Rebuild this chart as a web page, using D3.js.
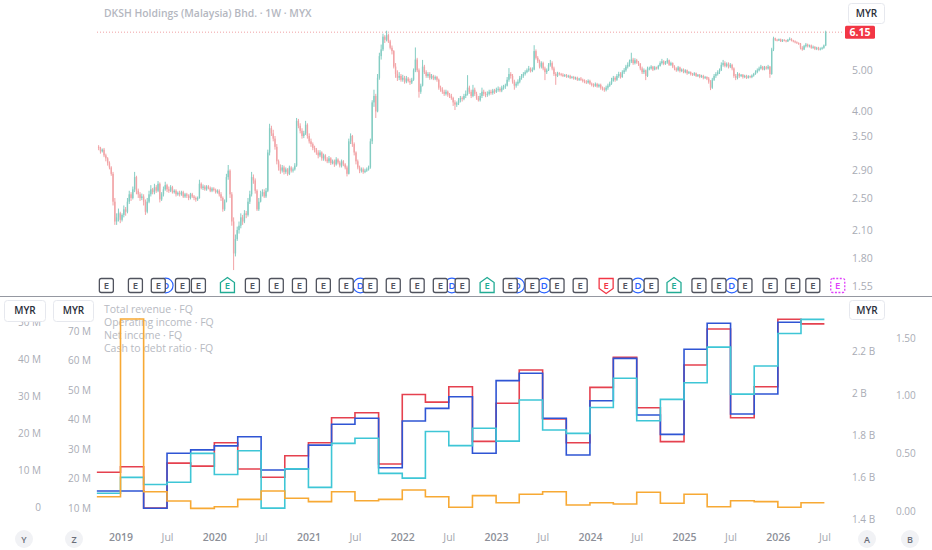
<!DOCTYPE html>
<html>
<head>
<meta charset="utf-8">
<script src="https://cdn.jsdelivr.net/npm/d3@7"></script>
<style>
  body { margin: 0; background: #fff; }
  svg { display: block; font-family: "Open Sans", sans-serif; }
</style>
</head>
<body>
<script>
// ---- weekly price data (MYR) ----
var firstWeek = "2018-10-08",
  firstOpen = 3.30,
  lastPrice = 6.15;

var weekClose = [
  3.28,3.22,3.25,3.15,3.10,3.02,2.95, 2.85,2.45,2.20, 2.25,2.30,2.22,2.28,2.35,2.32,
  2.45,2.55,2.50,2.62,2.80,2.60, 2.55,2.50,2.52,2.45,2.32,2.45, 2.55,2.62,2.58,2.65,2.60,
  2.70,2.48,2.55,2.62,2.68,
  2.62,2.60,2.65,2.58,2.60,2.55,2.57,2.55,2.58,2.52,2.55,2.53,2.50,2.55,2.52,2.50,2.48,2.50,
  2.70,2.64,2.66,2.62,2.66,2.64,2.60,2.63,2.61,2.58,2.60,2.55, 2.50,2.35,2.45, 2.80,2.90,
  2.55,2.20,1.85,2.00, 2.10,2.15,2.25,2.20,2.30,2.28, 2.45,2.55,2.80,2.75,2.60, 2.35,2.45,
  2.55,2.58,2.52,2.60, 3.20,3.65,
  3.55,3.45,3.30,3.05,2.95,2.90,2.95,2.88,2.92,2.85,2.95,2.90,2.92,2.98, 3.80,
  3.70,3.60,3.50,3.55,3.72,3.50,3.40,3.35,3.28,3.25,3.20,3.15,3.20,
  3.10,3.15,3.08,3.05,3.10,3.02,3.05,3.00,3.08,3.03,2.98,3.05,3.00,2.95,2.85,
  3.40,3.50,3.35,3.20, 3.05,2.95,2.90,2.92,2.88,2.90,2.92,2.95,
  3.40,4.20,4.35,4.00,4.80,5.40,5.60, 6.00,5.90,6.05,5.85, 5.65,5.55, 5.10,4.90,4.80,
  4.85,4.75,4.80,4.70,4.78,4.72,4.68,4.75, 5.00,5.30,5.00, 4.45,4.60,
  5.10,4.95,4.85,4.90,4.80,4.85,4.78,4.82,4.75, 4.55,4.50,4.45,4.40,4.45,4.38,4.35,4.30,
  4.20,4.15,4.18,4.25,4.30,4.28,4.35,
  4.40,4.55,4.45,4.35,4.50,4.40,4.30,4.25,4.35,4.45,4.40,4.38,
  4.40,4.45,4.42,4.48,4.45,4.50,4.52,4.48,4.55,4.58,4.60, 4.75,4.90,4.85,4.70,
  4.60,4.65,4.70,4.80,4.85,4.90, 4.95,5.00,5.05,4.98,5.02, 5.55,5.35,
  5.25,5.10,5.20,5.05,4.95,5.00, 5.15,5.20,5.05,4.90,4.85,
  4.92,4.90,4.88,4.85,4.87,4.83,4.85,4.80,4.82,4.78,4.80,4.75,4.78,
  4.75,4.72,4.70,4.68,4.72,4.65,4.62,4.60,4.64,4.58,4.62,4.55,4.52, 4.50,4.55,4.60,
  4.65,4.72,4.80,4.75,4.85,4.90,4.82,4.95,5.00,5.10, 5.15,5.25,5.30,5.20,5.28,5.22,5.18,
  5.05,4.95,5.00,4.85,5.05, 5.05,5.10,5.02,5.08,5.05,5.12, 5.20,5.25,5.18,5.22,5.28,5.15,5.20,5.10,
  5.05,5.00,5.08,4.98,5.02,4.95,5.00,4.92,4.95,4.90,4.88,4.92,4.85,4.88,4.82,4.85,4.80,4.82,4.78,
  4.70,4.55,4.75, 4.85,4.90,4.95,5.00, 5.15,5.20,5.12,5.18,5.10,5.15,5.05, 4.85,4.80,4.90,
  4.85,4.88,4.82,4.85,4.80,4.84,4.82,4.86,4.90, 4.95,5.00,5.05,5.10,5.02,5.08,5.05,5.10,
  4.90, 5.60,5.95,
  5.90,5.88,5.92,5.85,5.90,5.88,5.85,5.90,5.93,5.88,5.85,5.82,5.80,5.78, 5.65,5.60,5.70,
  5.75,5.70,5.72,5.65,5.68,5.62,5.65,5.60,5.62,5.65,5.72, 6.15
];

var weekHigh = [
  3.33,3.30,3.27,3.28,3.18,3.12,3.05, 2.97,2.88,2.50, 2.30,2.36,2.32,2.30,2.40,2.38,
  2.50,2.60,2.58,2.66,2.88,2.82, 2.63,2.58,2.56,2.55,2.48,2.50, 2.60,2.68,2.64,2.70,2.68,
  2.74,2.72,2.58,2.66,2.73,
  2.70,2.66,2.68,2.67,2.62,2.62,2.59,2.60,2.60,2.60,2.57,2.57,2.55,2.57,2.57,2.54,2.52,2.52,
  2.76,2.72,2.69,2.68,2.68,2.68,2.66,2.65,2.65,2.63,2.62,2.62, 2.58,2.52,2.48, 2.85,2.99,
  2.92,2.58,2.25,2.05, 2.14,2.20,2.30,2.28,2.34,2.33, 2.50,2.60,2.88,2.84,2.78, 2.62,2.50,
  2.60,2.62,2.62,2.64, 3.25,3.74,
  3.70,3.62,3.50,3.35,3.08,3.00,2.99,2.98,2.95,2.94,2.98,2.97,2.95,3.02, 3.86,
  3.84,3.75,3.65,3.60,3.80,3.75,3.55,3.45,3.38,3.32,3.28,3.24,3.24,
  3.22,3.18,3.17,3.12,3.14,3.12,3.08,3.08,3.12,3.10,3.06,3.08,3.07,3.02,2.98,
  3.45,3.55,3.52,3.38, 3.22,3.08,2.98,2.95,2.95,2.93,2.95,2.98,
  3.45,4.25,4.50,4.40,4.90,5.50,5.75, 6.10,6.05,6.20,6.10, 5.90,5.72, 5.58,5.20,5.00,
  4.95,4.90,4.88,4.85,4.85,4.82,4.78,4.80, 5.05,5.66,5.35, 5.05,4.65,
  5.29,5.15,5.00,4.95,4.95,4.90,4.88,4.86,4.85, 4.78,4.60,4.56,4.50,4.50,4.48,4.42,4.40,
  4.33,4.25,4.22,4.30,4.35,4.34,4.40,
  4.48,4.87,4.60,4.50,4.62,4.55,4.45,4.35,4.42,4.55,4.50,4.45,
  4.46,4.50,4.50,4.52,4.52,4.55,4.58,4.56,4.60,4.62,4.65, 4.82,5.06,4.95,4.90,
  4.75,4.70,4.76,4.85,4.90,4.95, 5.00,5.05,5.12,5.08,5.08, 5.73,5.60,
  5.40,5.30,5.25,5.24,5.10,5.05, 5.20,5.29,5.25,5.10,4.95,
  4.96,4.95,4.93,4.92,4.90,4.90,4.88,4.88,4.85,4.85,4.83,4.83,4.80,
  4.82,4.78,4.76,4.74,4.76,4.75,4.68,4.66,4.68,4.67,4.65,4.65,4.58, 4.56,4.60,4.65,
  4.70,4.80,4.85,4.84,4.90,4.96,4.95,5.00,5.06,5.15, 5.22,5.30,5.50,5.35,5.34,5.32,5.26,
  5.20,5.10,5.05,5.02,5.10, 5.10,5.14,5.12,5.12,5.10,5.15, 5.25,5.32,5.28,5.26,5.34,5.30,5.24,5.22,
  5.14,5.08,5.12,5.10,5.05,5.05,5.03,5.02,4.98,4.97,4.93,4.95,4.94,4.90,4.90,4.88,4.88,4.85,4.84,
  4.82,4.74,4.80, 4.90,4.95,5.00,5.05, 5.22,5.29,5.25,5.22,5.22,5.20,5.18, 5.08,4.90,4.95,
  4.93,4.90,4.90,4.88,4.88,4.87,4.86,4.89,4.93, 5.00,5.05,5.10,5.15,5.12,5.12,5.12,5.15,
  5.12, 5.65,6.00,
  5.97,5.93,5.94,5.94,5.92,5.92,5.90,5.93,5.98,5.95,5.90,5.88,5.85,5.82, 5.80,5.70,5.74,
  5.80,5.78,5.75,5.75,5.72,5.70,5.68,5.68,5.66,5.68,5.75, 6.20
];

var weekLow = [
  3.24,3.18,3.20,3.12,3.05,2.98,2.92, 2.82,2.40,2.16, 2.16,2.20,2.18,2.20,2.25,2.27,
  2.30,2.42,2.46,2.48,2.58,2.55, 2.50,2.46,2.47,2.40,2.28,2.30, 2.43,2.52,2.55,2.55,2.57,
  2.58,2.44,2.46,2.52,2.60,
  2.58,2.57,2.58,2.56,2.56,2.52,2.53,2.52,2.53,2.50,2.50,2.50,2.47,2.48,2.50,2.47,2.45,2.46,
  2.49,2.62,2.61,2.60,2.60,2.62,2.58,2.58,2.59,2.56,2.56,2.52, 2.46,2.32,2.33, 2.44,2.76,
  2.50,2.15,1.69,1.82, 1.98,2.06,2.12,2.16,2.18,2.24, 2.26,2.42,2.52,2.70,2.56, 2.33,2.33,
  2.44,2.52,2.50,2.50, 2.58,3.15,
  3.50,3.40,3.25,3.00,2.90,2.85,2.87,2.84,2.85,2.82,2.83,2.87,2.87,2.90, 2.96,
  3.65,3.55,3.45,3.46,3.52,3.45,3.36,3.30,3.24,3.20,3.16,3.10,3.12,
  3.06,3.06,3.05,3.02,3.02,2.99,3.00,2.96,2.98,3.00,2.95,2.95,2.97,2.92,2.81,
  2.84,3.35,3.30,3.15, 3.00,2.92,2.86,2.87,2.85,2.86,2.88,2.90,
  2.93,3.35,4.10,3.86,3.98,4.75,5.30, 5.55,5.80,5.85,5.80, 5.60,5.45, 5.05,4.80,4.72,
  4.74,4.70,4.70,4.65,4.66,4.68,4.62,4.64, 4.72,4.95,4.95, 4.31,4.40,
  4.58,4.90,4.80,4.80,4.75,4.76,4.74,4.74,4.70, 4.50,4.45,4.40,4.35,4.36,4.33,4.30,4.26,
  4.12,4.03,4.10,4.14,4.20,4.22,4.25,
  4.30,4.36,4.40,4.30,4.32,4.35,4.26,4.22,4.22,4.30,4.35,4.32,
  4.33,4.36,4.38,4.38,4.40,4.42,4.45,4.44,4.44,4.50,4.52, 4.58,4.70,4.78,4.65,
  4.50,4.55,4.60,4.66,4.75,4.80, 4.86,4.92,4.96,4.94,4.95, 5.00,5.30,
  5.20,5.05,5.05,5.00,4.74,4.90, 4.98,5.10,5.00,4.85,4.62,
  4.82,4.86,4.84,4.82,4.82,4.80,4.80,4.77,4.78,4.75,4.75,4.72,4.72,
  4.72,4.68,4.66,4.64,4.65,4.62,4.58,4.56,4.57,4.55,4.55,4.50,4.48, 4.45,4.46,4.50,
  4.57,4.62,4.70,4.70,4.72,4.80,4.78,4.80,4.90,4.96, 5.05,5.10,5.20,5.15,5.16,5.18,5.12,
  5.00,4.90,4.90,4.74,4.82, 5.00,5.02,4.98,5.00,5.02,5.02, 5.10,5.16,5.14,5.15,5.18,5.12,5.12,5.06,
  5.00,4.96,4.97,4.94,4.95,4.92,4.92,4.88,4.90,4.86,4.85,4.85,4.82,4.82,4.79,4.80,4.76,4.77,4.74,
  4.65,4.49,4.52, 4.72,4.80,4.86,4.90, 4.98,5.10,5.08,5.08,5.05,5.06,5.00, 4.80,4.74,4.76,
  4.80,4.82,4.78,4.79,4.77,4.78,4.79,4.79,4.83, 4.88,4.92,4.97,5.02,5.00,5.00,5.02,5.02,
  4.80, 4.88,5.55,
  5.86,5.85,5.86,5.83,5.83,5.85,5.82,5.83,5.88,5.85,5.82,5.79,5.77,5.74, 5.60,5.56,5.58,
  5.66,5.66,5.66,5.62,5.62,5.58,5.58,5.57,5.57,5.59,5.62, 5.70
];

var priceTicks = [1.55, 1.80, 2.10, 2.50, 2.90, 3.50, 4.00, 5.00];

// ---- earnings / dividend events ----
var earningsDates = ["2018-11-07","2019-02-28","2019-05-28","2019-08-30","2019-10-31","2020-02-21",
  "2020-05-28","2020-08-29","2020-11-27","2021-02-28","2021-05-28","2021-08-29","2021-11-27",
  "2022-02-28","2022-05-29","2022-08-22","2022-11-27","2023-02-25","2023-05-21","2023-08-26",
  "2023-11-24","2024-03-04","2024-05-17","2024-08-26","2024-11-23","2025-02-28","2025-05-17",
  "2025-08-26","2025-12-02","2026-02-28","2026-05-17","2026-08-22"];
var earningsKind = ["E","E","E","E","E","beat","E","E","E","E","E","E","E","E","E","E","beat",
  "E","E","E","E","miss","E","E","beat","E","E","E","E","E","E","next"];
var dividendDates = ["2019-06-26","2021-07-22","2022-07-13","2023-03-24","2023-07-07","2024-07-06","2025-07-06"];

// ---- quarterly fundamentals (FQ) ----
var quarterFirst = "2018-10-01", quarterCount = 31;
var totalRevenue = [1.533,1.533,1.451,1.713,1.729,1.748,1.792,1.633,1.638,1.752,1.851,1.880,1.644,
  1.867,1.927,1.982,1.713,2.059,2.094,1.880,1.705,1.963,2.165,1.895,1.803,2.208,2.332,1.900,1.995,2.337,null]; // B
var operatingIncome = [22.1,24.0,10.0,25.2,24.2,32.1,23.2,20.4,27.7,32.1,40.6,42.3,24.9,48.5,45.9,51.1,
  32.6,45.5,56.8,40.2,32.1,50.9,61.1,44.0,32.5,58.5,70.7,40.6,51.1,74.0,72.4]; // M
var netIncome = [3.7,8.0,6.1,6.7,14.5,8.8,15.2,-0.3,10.3,5.3,17.2,18.6,9.1,7.8,20.4,16.6,21.3,17.8,
  28.9,20.8,19.9,26.9,34.8,23.3,29.1,33.6,43.2,30.5,38.1,46.9,50.7]; // M
var cashToDebt = [0.124,1.665,0.167,0.087,0.023,0.037,0.101,0.173,0.110,0.081,0.167,0.089,0.101,0.182,
  0.124,0.032,0.133,0.072,0.145,0.167,0.052,0.072,0.061,0.162,0.067,0.145,0.037,0.089,0.081,0.032,0.072];

var legendLabels = ["Total revenue · FQ", "Operating income · FQ", "Net income · FQ", "Cash to debt ratio · FQ"];
var revTicks = [1.4, 1.6, 1.8, 2.0, 2.2],
  opTicks = [10, 20, 30, 40, 50, 60, 70],
  netTicks = [0, 10, 20, 30, 40, 50],
  ratioTicks = [0, 0.5, 1, 1.5];
var timeTickFirst = "2019-01-01", timeTickLast = "2026-07-01";

var width = 932,
  height = 550,
  upColor = "#84cdc3",
  downColor = "#f2a3a6",
  labelColor = "#a9acb5",
  parse = d3.utcParse("%Y-%m-%d");

var svg = d3.select("body").append("svg")
  .attr("width", width)
  .attr("height", height);

var x = d3.scaleUtc()
  .domain([parse("2019-01-01"), parse("2026-04-01")])
  .range([120.5, 801]);

// ---------------- price panel ----------------
var y = d3.scaleLog()
  .domain([5, 1.55])
  .range([70.3, 286]);

var candles = weekClose.map(function (c, i) {
  var o = i ? weekClose[i - 1] : firstOpen;
  return {
    date: d3.utcDay.offset(parse(firstWeek), 7 * i),
    o: o, c: c,
    h: Math.max(weekHigh[i], o, c),
    l: Math.min(weekLow[i], o, c)
  };
});

svg.append("text")
  .attr("x", 104).attr("y", 17)
  .attr("font-size", 10.4).attr("font-weight", 600)
  .attr("fill", "#b4b7bf")
  .text("DKSH Holdings (Malaysia) Bhd. · 1W · MYX");

svg.append("line")
  .attr("x1", 97).attr("x2", 842)
  .attr("y1", y(lastPrice)).attr("y2", y(lastPrice))
  .attr("stroke", "#f0a0a4").attr("stroke-dasharray", "1,2");

var cg = svg.append("g");
cg.selectAll("line.wick")
  .data(candles)
  .enter().append("line")
  .attr("class", "wick")
  .attr("x1", function (d) { return x(d.date); })
  .attr("x2", function (d) { return x(d.date); })
  .attr("y1", function (d) { return y(d.h); })
  .attr("y2", function (d) { return y(d.l); })
  .attr("stroke", function (d) { return d.c >= d.o ? upColor : downColor; })
  .attr("stroke-width", 1);
cg.selectAll("rect.body")
  .data(candles)
  .enter().append("rect")
  .attr("class", "body")
  .attr("x", function (d) { return x(d.date) - 0.7; })
  .attr("width", 1.4)
  .attr("y", function (d) { return y(Math.max(d.o, d.c)); })
  .attr("height", function (d) { return Math.max(0.8, y(Math.min(d.o, d.c)) - y(Math.max(d.o, d.c))); })
  .attr("fill", function (d) { return d.c >= d.o ? upColor : downColor; });

var priceAxis = svg.append("g")
  .attr("transform", "translate(849,0)")
  .call(d3.axisRight(y).tickValues(priceTicks).tickSize(0).tickFormat(d3.format(".2f")));
styleAxis(priceAxis, 10.5, labelColor);

// last price tag
svg.append("rect")
  .attr("x", 845).attr("y", y(lastPrice) - 6.5)
  .attr("width", 30).attr("height", 13).attr("rx", 1.5)
  .attr("fill", "#f23645");
svg.append("text")
  .attr("x", 860).attr("y", y(lastPrice) + 4)
  .attr("text-anchor", "middle").attr("font-size", 10.5).attr("font-weight", 700)
  .attr("fill", "#fff").text(d3.format(".2f")(lastPrice));

unitBox(848, 3, 36, 20);

// dividends under the earnings boxes
var markY = 285.5;
var dg = svg.append("g");
dg.selectAll("circle")
  .data(dividendDates)
  .enter().append("circle")
  .attr("cx", function (d) { return x(parse(d)); })
  .attr("cy", markY).attr("r", 7.3)
  .attr("fill", "#fff").attr("stroke", "#2962ff").attr("stroke-width", 1.2);
dg.selectAll("text")
  .data(dividendDates)
  .enter().append("text")
  .attr("x", function (d) { return x(parse(d)); })
  .attr("y", markY + 3.5)
  .attr("text-anchor", "middle").attr("font-size", 9.5).attr("font-weight", 600)
  .attr("fill", "#2962ff").text("D");

var kindColor = { E: "#50535e", beat: "#22ab94", miss: "#f23645", next: "#e040fb" };
function markerPath(k) {
  if (k == "beat") return "M-7,7H7V-3L0,-8L-7,-3Z";
  if (k == "miss") return "M-7,-7H7V3L0,8L-7,3Z";
  return "M-5,-7H5Q7,-7 7,-5V5Q7,7 5,7H-5Q-7,7 -7,5V-5Q-7,-7 -5,-7Z";
}
var eg = svg.append("g").selectAll("g")
  .data(earningsDates.map(function (d, i) { return { date: parse(d), kind: earningsKind[i] }; }))
  .enter().append("g")
  .attr("transform", function (d) { return "translate(" + x(d.date) + "," + markY + ")"; });
eg.append("path")
  .attr("d", function (d) { return markerPath(d.kind); })
  .attr("fill", "#fff")
  .attr("stroke", function (d) { return kindColor[d.kind]; })
  .attr("stroke-width", 1.3)
  .attr("stroke-dasharray", function (d) { return d.kind == "next" ? "2,1.5" : null; });
eg.append("text")
  .attr("y", 3.5).attr("text-anchor", "middle")
  .attr("font-size", 9.5).attr("font-weight", 600)
  .attr("fill", function (d) { return kindColor[d.kind]; })
  .text("E");

svg.append("line")
  .attr("x1", 0).attr("x2", width)
  .attr("y1", 296.5).attr("y2", 296.5)
  .attr("stroke", "#9598a1").attr("stroke-width", 1);

// ---------------- fundamentals panel ----------------
var yRev = d3.scaleLinear().domain([1.4, 2.2]).range([519, 351]),
  yOp = d3.scaleLinear().domain([10, 70]).range([508, 331]),
  yNet = d3.scaleLinear().domain([0, 40]).range([507, 359]),
  yRatio = d3.scaleLinear().domain([0, 1.5]).range([511, 338]);

var qStarts = d3.range(quarterCount + 1).map(function (i) {
  return d3.utcMonth.offset(parse(quarterFirst), 3 * i);
});

function stepPoints(values) {
  var pts = [];
  values.forEach(function (v, i) {
    if (v == null) return;
    pts.push([qStarts[i], v]);
    pts.push([qStarts[i + 1], v]);
  });
  return pts;
}

var fundSeries = [
  { values: operatingIncome, scale: yOp, color: "#e5414f" },
  { values: totalRevenue, scale: yRev, color: "#2f55d4" },
  { values: netIncome, scale: yNet, color: "#3ec6d6" },
  { values: cashToDebt, scale: yRatio, color: "#f7a934" }
];

var legend = svg.append("g");
legend.selectAll("text")
  .data(legendLabels)
  .enter().append("text")
  .attr("x", 104)
  .attr("y", function (d, i) { return 313 + i * 13.1; })
  .attr("font-size", 10.5)
  .attr("fill", "#b7bac2")
  .text(function (d) { return d; });

fundSeries.forEach(function (s) {
  var line = d3.line()
    .x(function (d) { return x(d[0]); })
    .y(function (d) { return s.scale(d[1]); });
  svg.append("path")
    .datum(stepPoints(s.values))
    .attr("d", line)
    .attr("fill", "none")
    .attr("stroke", s.color)
    .attr("stroke-width", 1.6)
    .attr("stroke-linejoin", "miter");
});

var netAxis = svg.append("g").attr("transform", "translate(44,0)")
  .call(d3.axisLeft(yNet).tickValues(netTicks).tickSize(0)
    .tickFormat(function (d) { return d ? d + " M" : "0"; }));
styleAxis(netAxis, 10, labelColor);
var opAxis = svg.append("g").attr("transform", "translate(94,0)")
  .call(d3.axisLeft(yOp).tickValues(opTicks).tickSize(0)
    .tickFormat(function (d) { return d + " M"; }));
styleAxis(opAxis, 10, labelColor);
var revAxis = svg.append("g").attr("transform", "translate(849,0)")
  .call(d3.axisRight(yRev).tickValues(revTicks).tickSize(0)
    .tickFormat(function (d) { return d3.format("~g")(d) + " B"; }));
styleAxis(revAxis, 10, labelColor);
var ratioAxis = svg.append("g").attr("transform", "translate(893,0)")
  .call(d3.axisRight(yRatio).tickValues(ratioTicks).tickSize(0).tickFormat(d3.format(".2f")));
styleAxis(ratioAxis, 10, labelColor);

unitBox(4, 300, 41, 21);
unitBox(53, 300, 40, 21);
unitBox(849, 300, 35, 19);

// ---------------- time axis ----------------
var timeTicks = d3.utcMonth.every(6).range(parse(timeTickFirst), d3.utcDay.offset(parse(timeTickLast), 1));
var timeAxis = svg.append("g").attr("transform", "translate(0,531)")
  .call(d3.axisBottom(x).tickValues(timeTicks).tickSize(0)
    .tickFormat(function (d) { return d.getUTCMonth() == 0 ? d.getUTCFullYear() : "Jul"; }));
styleAxis(timeAxis, 10.5, "#a3a6ae");
timeAxis.selectAll(".tick text")
  .filter(function (d) { return d.getUTCMonth() == 0; })
  .attr("font-weight", 600).attr("fill", "#8c8f98");

[["Y", 24], ["Z", 74], ["A", 867], ["B", 910]].forEach(function (b) {
  svg.append("circle").attr("cx", b[1]).attr("cy", 539).attr("r", 9).attr("fill", "#f1f2f5");
  svg.append("text").attr("x", b[1]).attr("y", 542.5).attr("text-anchor", "middle")
    .attr("font-size", 9).attr("font-weight", 600).attr("fill", "#6a6d78").text(b[0]);
});

function styleAxis(g, size, color) {
  g.attr("font-family", null).attr("font-size", size);
  g.select(".domain").remove();
  g.selectAll(".tick text").attr("fill", color);
}

function unitBox(bx, by, bw, bh) {
  svg.append("rect")
    .attr("x", bx + 0.5).attr("y", by + 0.5)
    .attr("width", bw).attr("height", bh).attr("rx", 3)
    .attr("fill", "#fff").attr("stroke", "#e6e8ee");
  svg.append("text")
    .attr("x", bx + bw / 2 + 0.5).attr("y", by + 13.5)
    .attr("text-anchor", "middle").attr("font-size", 10).attr("font-weight", 600)
    .attr("fill", "#2a2e39").text("MYR");
}
</script>
</body>
</html>
